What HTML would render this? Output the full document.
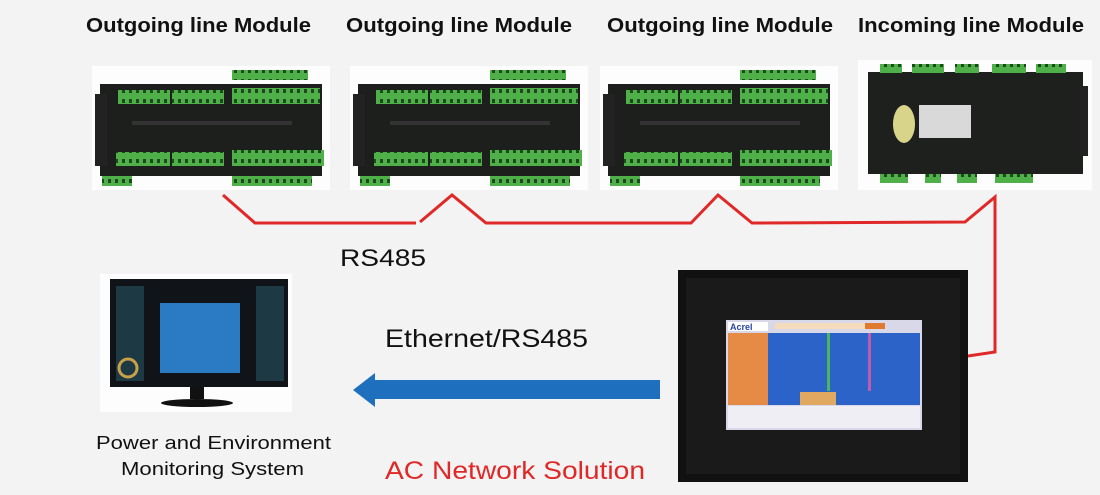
<!DOCTYPE html>
<html><head><meta charset="utf-8"><style>
html,body{margin:0;padding:0;background:#f3f3f3;}
svg{display:block}
</style></head><body>
<svg width="1100" height="495" viewBox="0 0 1100 495" xmlns="http://www.w3.org/2000/svg" font-family="Liberation Sans, sans-serif">
<defs>
<pattern id="term" width="7" height="10" patternUnits="userSpaceOnUse">
<rect width="7" height="10" fill="#4fb04a"/><rect x="2" y="3" width="3" height="4" fill="#1d4a1c"/>
</pattern>
<g id="out">
<rect x="0" y="0" width="238" height="124" fill="#fdfdfd"/>
<rect x="8" y="18" width="222" height="92" fill="#1c1f1c"/>
<rect x="3" y="28" width="12" height="72" fill="#222"/>
<rect x="140" y="4" width="76" height="10" fill="url(#term)"/>
<rect x="26" y="24" width="52" height="14" fill="url(#term)"/>
<rect x="80" y="24" width="52" height="14" fill="url(#term)"/>
<rect x="140" y="22" width="88" height="16" fill="url(#term)"/>
<rect x="24" y="86" width="54" height="14" fill="url(#term)"/>
<rect x="80" y="86" width="52" height="14" fill="url(#term)"/>
<rect x="140" y="84" width="92" height="16" fill="url(#term)"/>
<rect x="10" y="110" width="30" height="10" fill="url(#term)"/>
<rect x="140" y="110" width="80" height="10" fill="url(#term)"/>
<rect x="40" y="55" width="160" height="4" fill="#333"/>
</g>
</defs>
<rect width="1100" height="495" fill="#f3f3f3"/>
<g font-weight="bold" font-size="20" fill="#111" lengthAdjust="spacingAndGlyphs">
<text x="86" y="32" textLength="225" lengthAdjust="spacingAndGlyphs">Outgoing line Module</text>
<text x="346" y="32" textLength="226" lengthAdjust="spacingAndGlyphs">Outgoing line Module</text>
<text x="607" y="32" textLength="226" lengthAdjust="spacingAndGlyphs">Outgoing line Module</text>
<text x="858" y="32" textLength="226" lengthAdjust="spacingAndGlyphs">Incoming line Module</text>
</g>
<use href="#out" x="92" y="66"/>
<use href="#out" x="350" y="66"/>
<use href="#out" x="600" y="66"/>
<!-- incoming -->
<rect x="858" y="60" width="234" height="130" fill="#fdfdfd"/>
<rect x="868" y="72" width="215" height="102" fill="#1e201e"/>
<rect x="1080" y="86" width="8" height="70" fill="#222"/>
<rect x="880" y="64" width="22" height="9" fill="url(#term)"/>
<rect x="912" y="64" width="32" height="9" fill="url(#term)"/>
<rect x="955" y="64" width="24" height="9" fill="url(#term)"/>
<rect x="992" y="64" width="34" height="9" fill="url(#term)"/>
<rect x="1036" y="64" width="30" height="9" fill="url(#term)"/>
<rect x="880" y="174" width="28" height="9" fill="url(#term)"/>
<rect x="925" y="174" width="16" height="9" fill="url(#term)"/>
<rect x="957" y="174" width="20" height="9" fill="url(#term)"/>
<rect x="995" y="174" width="38" height="9" fill="url(#term)"/>
<ellipse cx="904" cy="124" rx="11" ry="19" fill="#d8d48a"/>
<rect x="919" y="105" width="52" height="33" fill="#d9d9d9"/>
<!-- red line -->
<polyline points="223,195 255,223 416,223" fill="none" stroke="#e02828" stroke-width="3"/>
<polyline points="420,222 452,195 486,223 691,223 718,195 752,223 965,222 995,197 995,352 968,356" fill="none" stroke="#e02828" stroke-width="3"/>
<text x="340" y="266" font-size="24" fill="#111" textLength="86" lengthAdjust="spacingAndGlyphs">RS485</text>
<!-- monitor -->
<rect x="100" y="274" width="192" height="138" fill="#fdfdfd"/>
<rect x="110" y="279" width="178" height="108" fill="#101418"/>
<rect x="116" y="286" width="28" height="95" fill="#1d3a44"/>
<rect x="256" y="286" width="28" height="95" fill="#1d3a44"/>
<rect x="160" y="303" width="80" height="70" fill="#2a7bc4"/>
<circle cx="128" cy="368" r="9" fill="none" stroke="#c7a048" stroke-width="3"/>
<rect x="190" y="387" width="14" height="12" fill="#111"/>
<ellipse cx="197" cy="403" rx="36" ry="4" fill="#111"/>
<text x="96" y="449" font-size="18" fill="#111" textLength="235" lengthAdjust="spacingAndGlyphs">Power and Environment</text>
<text x="121" y="475" font-size="18" fill="#111" textLength="183" lengthAdjust="spacingAndGlyphs">Monitoring System</text>
<!-- arrow -->
<text x="385" y="347" font-size="25" fill="#111" textLength="203" lengthAdjust="spacingAndGlyphs">Ethernet/RS485</text>
<rect x="372" y="380" width="288" height="19" fill="#1f6fbf"/>
<polygon points="353,390 375,373 375,407" fill="#1f6fbf"/>
<text x="385" y="479" font-size="25" fill="#e02828" textLength="260" lengthAdjust="spacingAndGlyphs">AC Network Solution</text>
<!-- touchscreen -->
<rect x="678" y="270" width="290" height="212" fill="#111"/>
<rect x="686" y="278" width="274" height="196" fill="#1a1a1a"/>
<rect x="726" y="320" width="196" height="110" fill="#d8d8e8"/>
<rect x="728" y="322" width="40" height="9" fill="#fff"/>
<text x="730" y="330" font-size="9" font-weight="bold" fill="#2845a0">Acrel</text>
<rect x="775" y="323" width="90" height="6" fill="#f4dcbc"/>
<rect x="865" y="323" width="20" height="6" fill="#e07a30"/>
<rect x="728" y="333" width="40" height="72" fill="#e58b45"/>
<rect x="768" y="333" width="152" height="72" fill="#2c63c8"/>
<rect x="827" y="333" width="3" height="58" fill="#4ab85a"/>
<rect x="868" y="333" width="3" height="58" fill="#c05ab0"/>
<rect x="800" y="392" width="36" height="13" fill="#e0a860"/>
<rect x="728" y="406" width="192" height="22" fill="#eeeef4"/>
</svg>
</body></html>
